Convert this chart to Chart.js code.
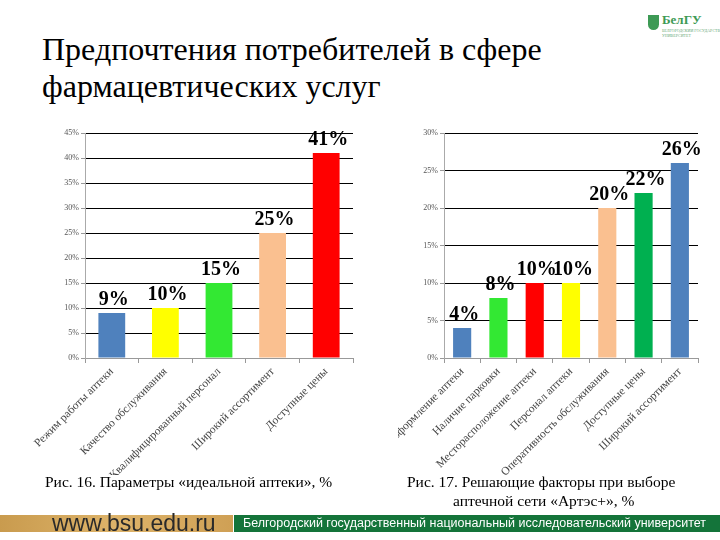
<!DOCTYPE html>
<html>
<head>
<meta charset="utf-8">
<script src="https://cdn.jsdelivr.net/npm/chart.js@4"></script>
<style>
  body { margin:0; width:720px; height:540px; background:#fff; position:relative; overflow:hidden; font-family:"Liberation Serif", "DejaVu Serif", serif; }
  #title { position:absolute; left:42px; top:31px; font-family:"Liberation Serif", serif; font-size:32px; line-height:37px; color:#000; white-space:nowrap; }
  .cap { position:absolute; font-family:"Liberation Serif", serif; font-size:15.5px; color:#000; white-space:nowrap; }
  #c1wrap { position:absolute; left:20px; top:115px; width:345px; height:360px; }
  #c2wrap { position:absolute; left:398px; top:115px; width:317px; height:360px; }
  #foot1 { position:absolute; left:0; top:515px; width:233px; height:17px; background:linear-gradient(90deg,#c99b4e,#ddb36a 50%,#cfa055); font-family:"Liberation Sans",Arial,sans-serif; font-size:23px; line-height:17px; color:#2a2a2a; overflow:visible; }
  #foot1 span { position:absolute; left:52px; top:0; }
  #foot2 { position:absolute; left:234px; top:515px; width:486px; height:17px; background:#14743a; font-family:"Liberation Sans Narrow","Liberation Sans",Arial,sans-serif; font-size:12.5px; line-height:17px; color:#fff; padding-left:9px; box-sizing:border-box; white-space:nowrap; }
  #logo { position:absolute; left:648px; top:13px; width:60px; height:26px; }
  #logo .sh { position:absolute; left:0; top:2px; width:11px; height:15px; background:#3d9a55; border-radius:0 0 6px 6px; }
  #logo .tx { position:absolute; left:14px; top:0px; font-size:13px; line-height:14px; color:#3d9a55; font-weight:bold; }
  #logo .sm { position:absolute; left:14px; top:15px; font-size:4px; color:#6aaa7a; line-height:5px; white-space:nowrap; }
</style>
</head>
<body>
<div id="title">Предпочтения потребителей в сфере<br>фармацевтических услуг</div>
<div id="logo"><div class="sh"></div><div class="tx">БелГУ</div><div class="sm">БЕЛГОРОДСКИЙ ГОСУДАРСТВЕННЫЙ<br>УНИВЕРСИТЕТ</div></div>
<div id="c1wrap"><canvas id="c1"></canvas></div>
<div id="c2wrap"><canvas id="c2"></canvas></div>
<div class="cap" style="left:45px; top:473px;">Рис. 16. Параметры «идеальной аптеки», %</div>
<div class="cap" style="left:407px; top:473px;">Рис. 17. Решающие факторы при выборе</div>
<div class="cap" style="left:453px; top:492px;">аптечной сети «Артэс+», %</div>
<div id="foot1"><span>www.bsu.edu.ru</span></div>
<div id="foot2">Белгородский государственный национальный исследовательский университет</div>
<script>
const labels1 = ["Режим работы аптеки", "Качество обслуживания", "Квалифицированный персонал", "Широкий ассортимент", "Доступные цены"];
const values1 = [9, 10, 15, 25, 41];
const colors1 = ["#4f81bd", "#ffff00", "#33e833", "#fac090", "#ff0000"];

const labels2 = ["Внешнее оформление аптеки", "Наличие парковки", "Месторасположение аптеки", "Персонал аптеки", "Оперативность обслуживания", "Доступные цены", "Широкий ассортимент"];
const values2 = [4, 8, 10, 10, 20, 22, 26];
const colors2 = ["#4f81bd", "#33e833", "#ff0000", "#ffff00", "#fac090", "#00b050", "#4f81bd"];

const valueLabels = {
  id: "valueLabels",
  afterDatasetsDraw(chart) {
    const ctx = chart.ctx;
    const meta = chart.getDatasetMeta(0);
    ctx.save();
    ctx.font = "bold 20px 'Liberation Serif', serif";
    ctx.fillStyle = "#000";
    ctx.textAlign = "center";
    ctx.textBaseline = "bottom";
    meta.data.forEach((bar, i) => {
      ctx.fillText(chart.data.datasets[0].data[i] + "%", bar.x + 2, bar.y - 3);
    });
    ctx.restore();
  }
};

function makeChart(id, labels, values, colors, maxY, yWidth, padRight) {
  new Chart(document.getElementById(id), {
    type: "bar",
    data: {
      labels: labels,
      datasets: [{
        data: values,
        backgroundColor: colors,
        barPercentage: 0.5,
        categoryPercentage: 1
      }]
    },
    options: {
      responsive: true,
      maintainAspectRatio: false,
      animation: false,
      layout: { padding: { top: 18, right: padRight, left: 0, bottom: 0 } },
      plugins: { legend: { display: false }, tooltip: { enabled: false } },
      scales: {
        x: {
          afterFit(scale) { scale.height = 117; scale.paddingLeft = 0; scale.paddingRight = 0; },
          grid: { drawOnChartArea: false, color: "#999", tickLength: 5, offset: true },
          border: { color: "#999" },
          ticks: {
            minRotation: 45, maxRotation: 45, autoSkip: false, padding: 2,
            color: "#444", font: { family: "'Liberation Serif', serif", size: 11.5 }
          }
        },
        y: {
          min: 0, max: maxY,
          afterFit(scale) { scale.width = yWidth; },
          grid: { color: "#000", lineWidth: 1, tickLength: 4, tickColor: "#999" },
          border: { color: "#aaa" },
          ticks: {
            stepSize: 5, padding: 2,
            color: "#555", font: { family: "'Liberation Serif', serif", size: 8 },
            callback: v => v + "%"
          }
        }
      }
    },
    plugins: [valueLabels]
  });
}

makeChart("c1", labels1, values1, colors1, 45, 65, 12);
makeChart("c2", labels2, values2, colors2, 30, 46, 17);
</script>
</body>
</html>
